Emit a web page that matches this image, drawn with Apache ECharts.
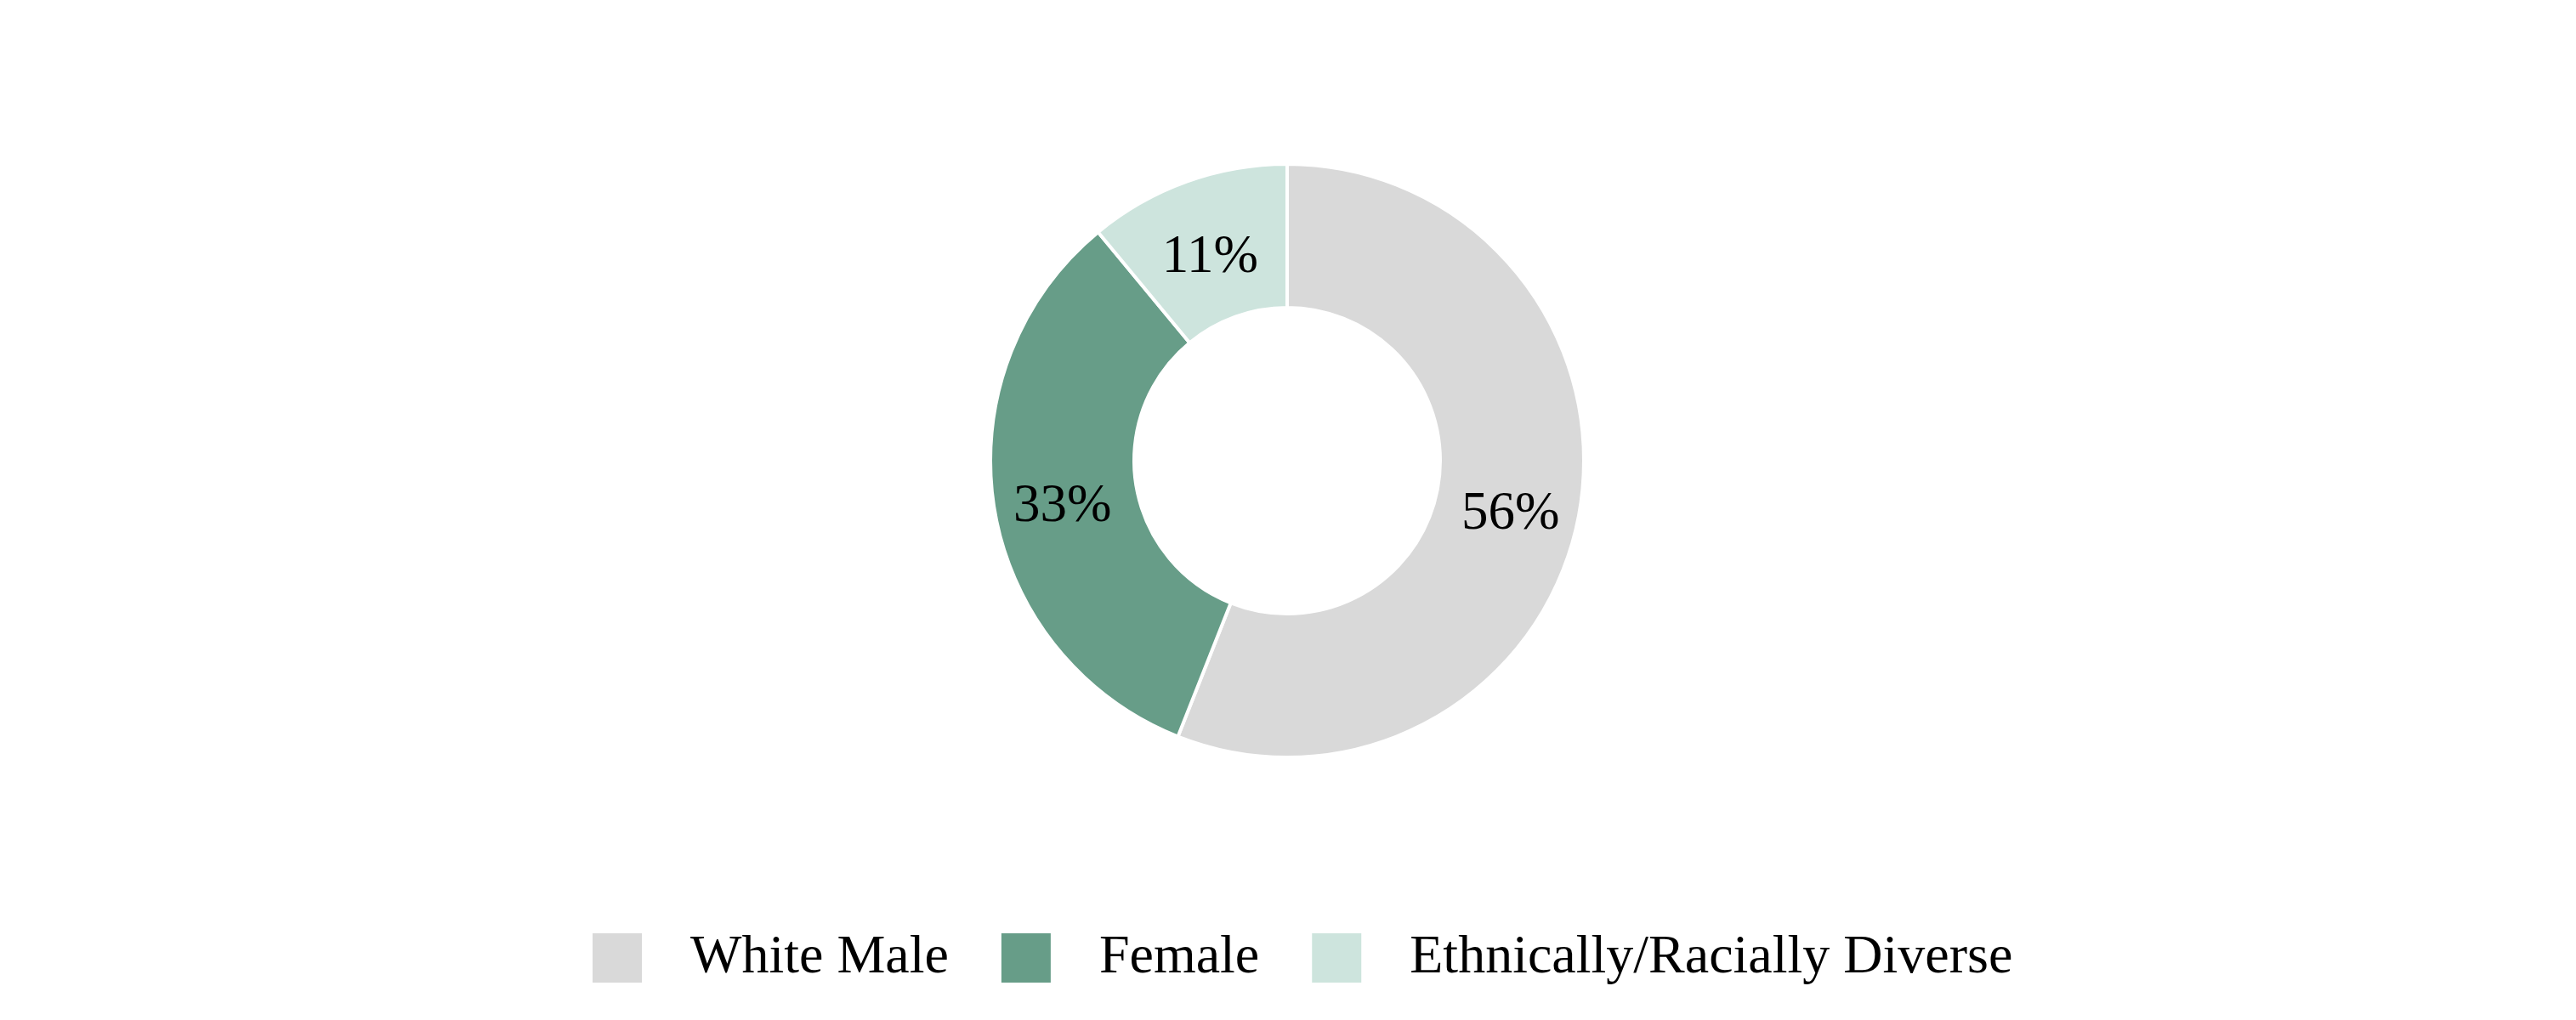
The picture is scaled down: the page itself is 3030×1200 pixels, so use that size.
<!DOCTYPE html>
<html>
<head>
<meta charset="utf-8">
<script src="https://cdn.jsdelivr.net/npm/echarts@6/dist/echarts.min.js"></script>
<style>
html, body { margin: 0; padding: 0; background: #fff; }
#main { width: 3030px; height: 1200px; }
</style>
</head>
<body>
<div id="main"></div>
<script>
// 数据
const groups = ['White Male', 'Female', 'Ethnically/Racially Diverse']
const shares = [56, 33, 11]
const colors = ['#d9d9d9', '#679d88', '#cde4dd']

const chart = echarts.init(document.getElementById('main'))
const option = {
  backgroundColor: '#fff',
  color: colors,
  legend: {
    left: 690,
    top: 1090,
    icon: 'rect',
    itemWidth: 60,
    itemHeight: 60,
    itemGap: 60,
    data: groups,
    textStyle: {
      fontFamily: 'Liberation Serif',
      fontSize: 64,
      color: '#000',
      padding: [0, 0, 0, 51]
    }
  },
  series: [
    {
      name: 'Board',
      type: 'pie',
      center: [1514, 542],
      radius: [180, 349],
      startAngle: 90,
      clockwise: true,
      avoidLabelOverlap: false,
      itemStyle: {
        borderColor: '#fff',
        borderWidth: 4
      },
      label: {
        show: true,
        position: 'inside',
        formatter: '{c}%',
        fontFamily: 'Liberation Serif',
        fontSize: 63,
        color: '#000',
        offset: [0, 13]
      },
      labelLine: { show: false },
      emphasis: { disabled: true },
      data: groups.map((g, i) => ({ name: g, value: shares[i] }))
    }
  ]
}
chart.setOption(option)
</script>
</body>
</html>
